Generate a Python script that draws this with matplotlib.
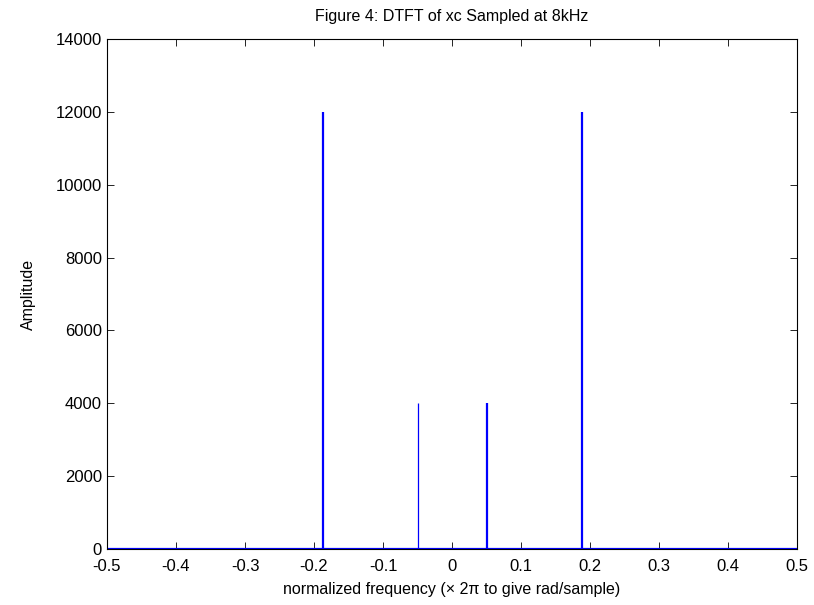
import matplotlib
matplotlib.use("Agg")
import matplotlib.pyplot as plt
import numpy as np

plt.rcParams["font.family"] = ["Liberation Sans", "DejaVu Sans"]

# spectral lines (normalized frequency, amplitude)
freqs = [-0.1875, -0.05, 0.05, 0.1875]
amps = [12000, 4000, 4000, 12000]
widths = [1.6, 0.9, 1.6, 1.6]
base_f = [-0.5, 0.5]
base_a = [0, 0]

xticks = np.round(np.arange(-0.5, 0.51, 0.1), 1)
yticks = np.arange(0, 14001, 2000)

fig = plt.figure(figsize=(8.14, 6.05), dpi=100)
ax = fig.add_axes([0.1314, 0.0926, 0.848, 0.843])

ax.plot(base_f, base_a, color="#0000ff", lw=1.6)
ax.vlines(freqs, 0, amps, colors="#0000ff", linewidths=widths)

ax.set_xlim(-0.5, 0.5)
ax.set_ylim(0, 14000)
ax.set_xticks(xticks)
ax.set_xticklabels([("%g" % t) if t != 0 else "0" for t in xticks])
ax.set_yticks(yticks)
ax.tick_params(direction="in", top=True, right=True, length=5, width=0.6,
               labelsize=12)
ax.tick_params(axis="x", pad=7)
for s in ax.spines.values():
    s.set_linewidth(0.8)

ax.set_xlabel("normalized frequency (\u00d7 2\u03c0 to give rad/sample)",
              fontsize=11.5, labelpad=6)
ax.set_ylabel("Amplitude", fontsize=11.5, labelpad=14)
ax.set_title("Figure 4: DTFT of xc Sampled at 8kHz", fontsize=11.5, pad=13)

fig.savefig("out.png", dpi=100)
